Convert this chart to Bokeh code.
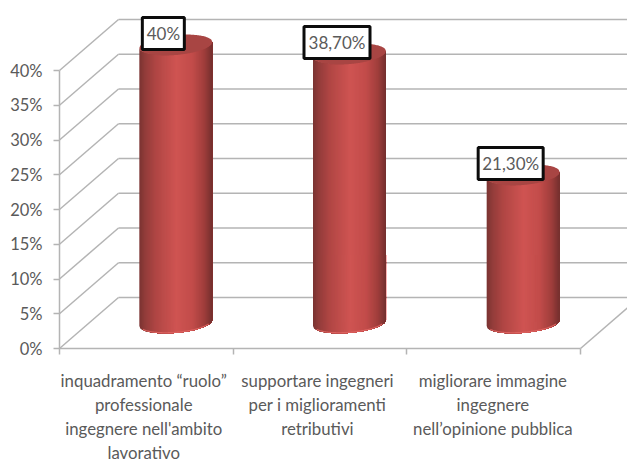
import numpy as np
from bokeh.core.properties import value
from bokeh.embed import file_html
from bokeh.models import FixedTicker, LinearAxis, Range1d
from bokeh.plotting import figure
from bokeh.resources import INLINE

categories = [
    "inquadramento \u201cruolo\u201d\nprofessionale\ningegnere nell'ambito\nlavorativo",
    "supportare ingegneri\nper i miglioramenti\nretributivi",
    "migliorare immagine\ningegnere\nnell\u2019opinione pubblica",
]
values = [40.0, 38.7, 21.3]
value_labels = ["40%", "38,70%", "21,30%"]
y_ticks = [0, 5, 10, 15, 20, 25, 30, 35, 40]

W, H = 627, 462
LEFT, BASE = 59, 348          # pixel position of the front axes' origin
PX_X = 173.67                 # pixels per category
PX_Y = 6.95                   # pixels per percentage point
DEPTH_X = 59 / PX_X           # receding floor, in data units
DEPTH_Y = 51 / PX_Y
GRID = "#b4b4b4"
TEXT = "#5a5a5a"
FONT = "Lato"

# The frame fills the page; both axes are pinned at zero inside it
p = figure(
    width=W, height=H, output_backend="svg", toolbar_location=None,
    x_range=Range1d(-LEFT / PX_X, (W - LEFT) / PX_X),
    y_range=Range1d(-(H - BASE) / PX_Y, BASE / PX_Y),
    min_border_left=0, min_border_right=0, min_border_top=0, min_border_bottom=0,
    x_axis_type=None, y_axis_type=None,
    outline_line_color=None, background_fill_color="white",
    border_fill_color="white",
)
p.xgrid.visible = False
p.ygrid.visible = False

# Wall and side gridlines of the 3-D box
n_cat = len(categories)
for t in y_ticks:
    p.line([DEPTH_X, n_cat + DEPTH_X], [t + DEPTH_Y, t + DEPTH_Y], line_color=GRID, line_width=1.5)
    p.line([0, DEPTH_X], [t, t + DEPTH_Y], line_color=GRID, line_width=1.5)
p.line([n_cat, n_cat + DEPTH_X], [0, DEPTH_Y], line_color=GRID, line_width=1.5)

y_axis = LinearAxis(
    fixed_location=0,
    ticker=FixedTicker(ticks=y_ticks), bounds=(0, 40),
    major_label_overrides={t: f"{t}%" for t in y_ticks},
    major_label_text_font=FONT, major_label_text_font_size="16.5px",
    major_label_text_color=TEXT, major_label_standoff=11,
    major_tick_in=0, major_tick_out=6, minor_tick_line_color=None,
    major_tick_line_color=GRID, major_tick_line_width=1.5,
    axis_line_color=GRID, axis_line_width=1.5,
)
p.add_layout(y_axis, "left")

# Caption anchors sit slightly left of each category centre
caption_ticks = [0.485, 1.485, 2.495]
x_axis = LinearAxis(
    fixed_location=0,
    ticker=FixedTicker(ticks=caption_ticks, minor_ticks=[0, 1, 2, 3]), bounds=(0, 3),
    major_label_overrides=dict(zip(caption_ticks, categories)),
    major_label_text_font=FONT, major_label_text_font_size="16.8px",
    major_label_text_color=TEXT, major_label_standoff=15,
    major_label_text_line_height=1.15,
    major_tick_line_color=None, major_tick_in=0, major_tick_out=0,
    minor_tick_in=0, minor_tick_out=6,
    minor_tick_line_color=GRID, minor_tick_line_width=1.5,
    axis_line_color=GRID, axis_line_width=1.5,
)
p.add_layout(x_axis, "below")

# Horizontal shading across a cylinder: dark edges, bright centre
SHADE_POS = [0.0, 0.07, 0.22, 0.5, 0.72, 0.88, 1.0]
SHADE_RGB = [(124, 52, 50), (146, 60, 58), (176, 70, 68), (207, 84, 82),
             (194, 76, 74), (160, 62, 60), (112, 46, 45)]


def shade(u):
    return "#%02x%02x%02x" % tuple(
        int(round(np.interp(u, SHADE_POS, [c[k] for c in SHADE_RGB]))) for k in range(3)
    )


RX = 36.5 / PX_X              # cylinder radius along x
RY = 10.0 / PX_Y              # ellipse half-height
TILT = 3.0 / PX_Y             # right side sits higher than the left


def rim(u, cy, sign):
    """Height of the ellipse edge at u in [-1, 1]; sign selects the near (-1) or far (+1) side."""
    return cy + TILT * u + sign * RY * np.sqrt(np.clip(1 - u * u, 0, 1))


STRIPS = 74
for i, v in enumerate(values):
    cx = i + 0.5 + DEPTH_X / 2
    base = DEPTH_Y / 2
    top = base + v
    edges = np.linspace(-1, 1, STRIPS + 1)
    us = np.linspace(-1, 1, 80)
    xs, ys, cols = [], [], []
    # Strips overlap toward the right so no background shows between them
    for a in edges[:-1]:
        uu = us[us >= a]
        uu = np.r_[a, uu]
        xs.append(np.r_[cx + RX * uu, cx + RX * uu[::-1]].tolist())
        ys.append(np.r_[rim(uu, base, -1), rim(uu[::-1], top, -1)].tolist())
        cols.append(shade((a + 1) / 2))
    p.patches(xs, ys, fill_color=cols, line_color=None)
    # Lighter rim along the bottom edge
    p.line(cx + RX * us[4:-4], rim(us[4:-4], base, -1) + 0.1, line_color="#dc625f", line_width=1.2)
    # Cap of the cylinder
    p.patch(np.r_[cx + RX * us, cx + RX * us[::-1]],
            np.r_[rim(us, top, 1), rim(us[::-1], top, -1)],
            fill_color="#a84543", line_color=None)

# Boxed value labels just up and to the left of each cap
BOX_W = [42, 66, 65]
BOX_H = 32
for i, (v, lab, bw) in enumerate(zip(values, value_labels, BOX_W)):
    bx = i + 0.5 + DEPTH_X / 2 - 12.5 / PX_X
    by = DEPTH_Y / 2 + v + 11.5 / PX_Y
    p.rect([bx], [by], width=bw, height=BOX_H, width_units="screen", height_units="screen",
           fill_color="white", line_color="#0c0c0c", line_width=3)
    p.text([bx], [by], text=[lab], text_align="center", text_baseline="middle",
           text_font=value(FONT), text_font_size="17px", text_color=TEXT)

open("out.html", "w").write(file_html(p, INLINE))
